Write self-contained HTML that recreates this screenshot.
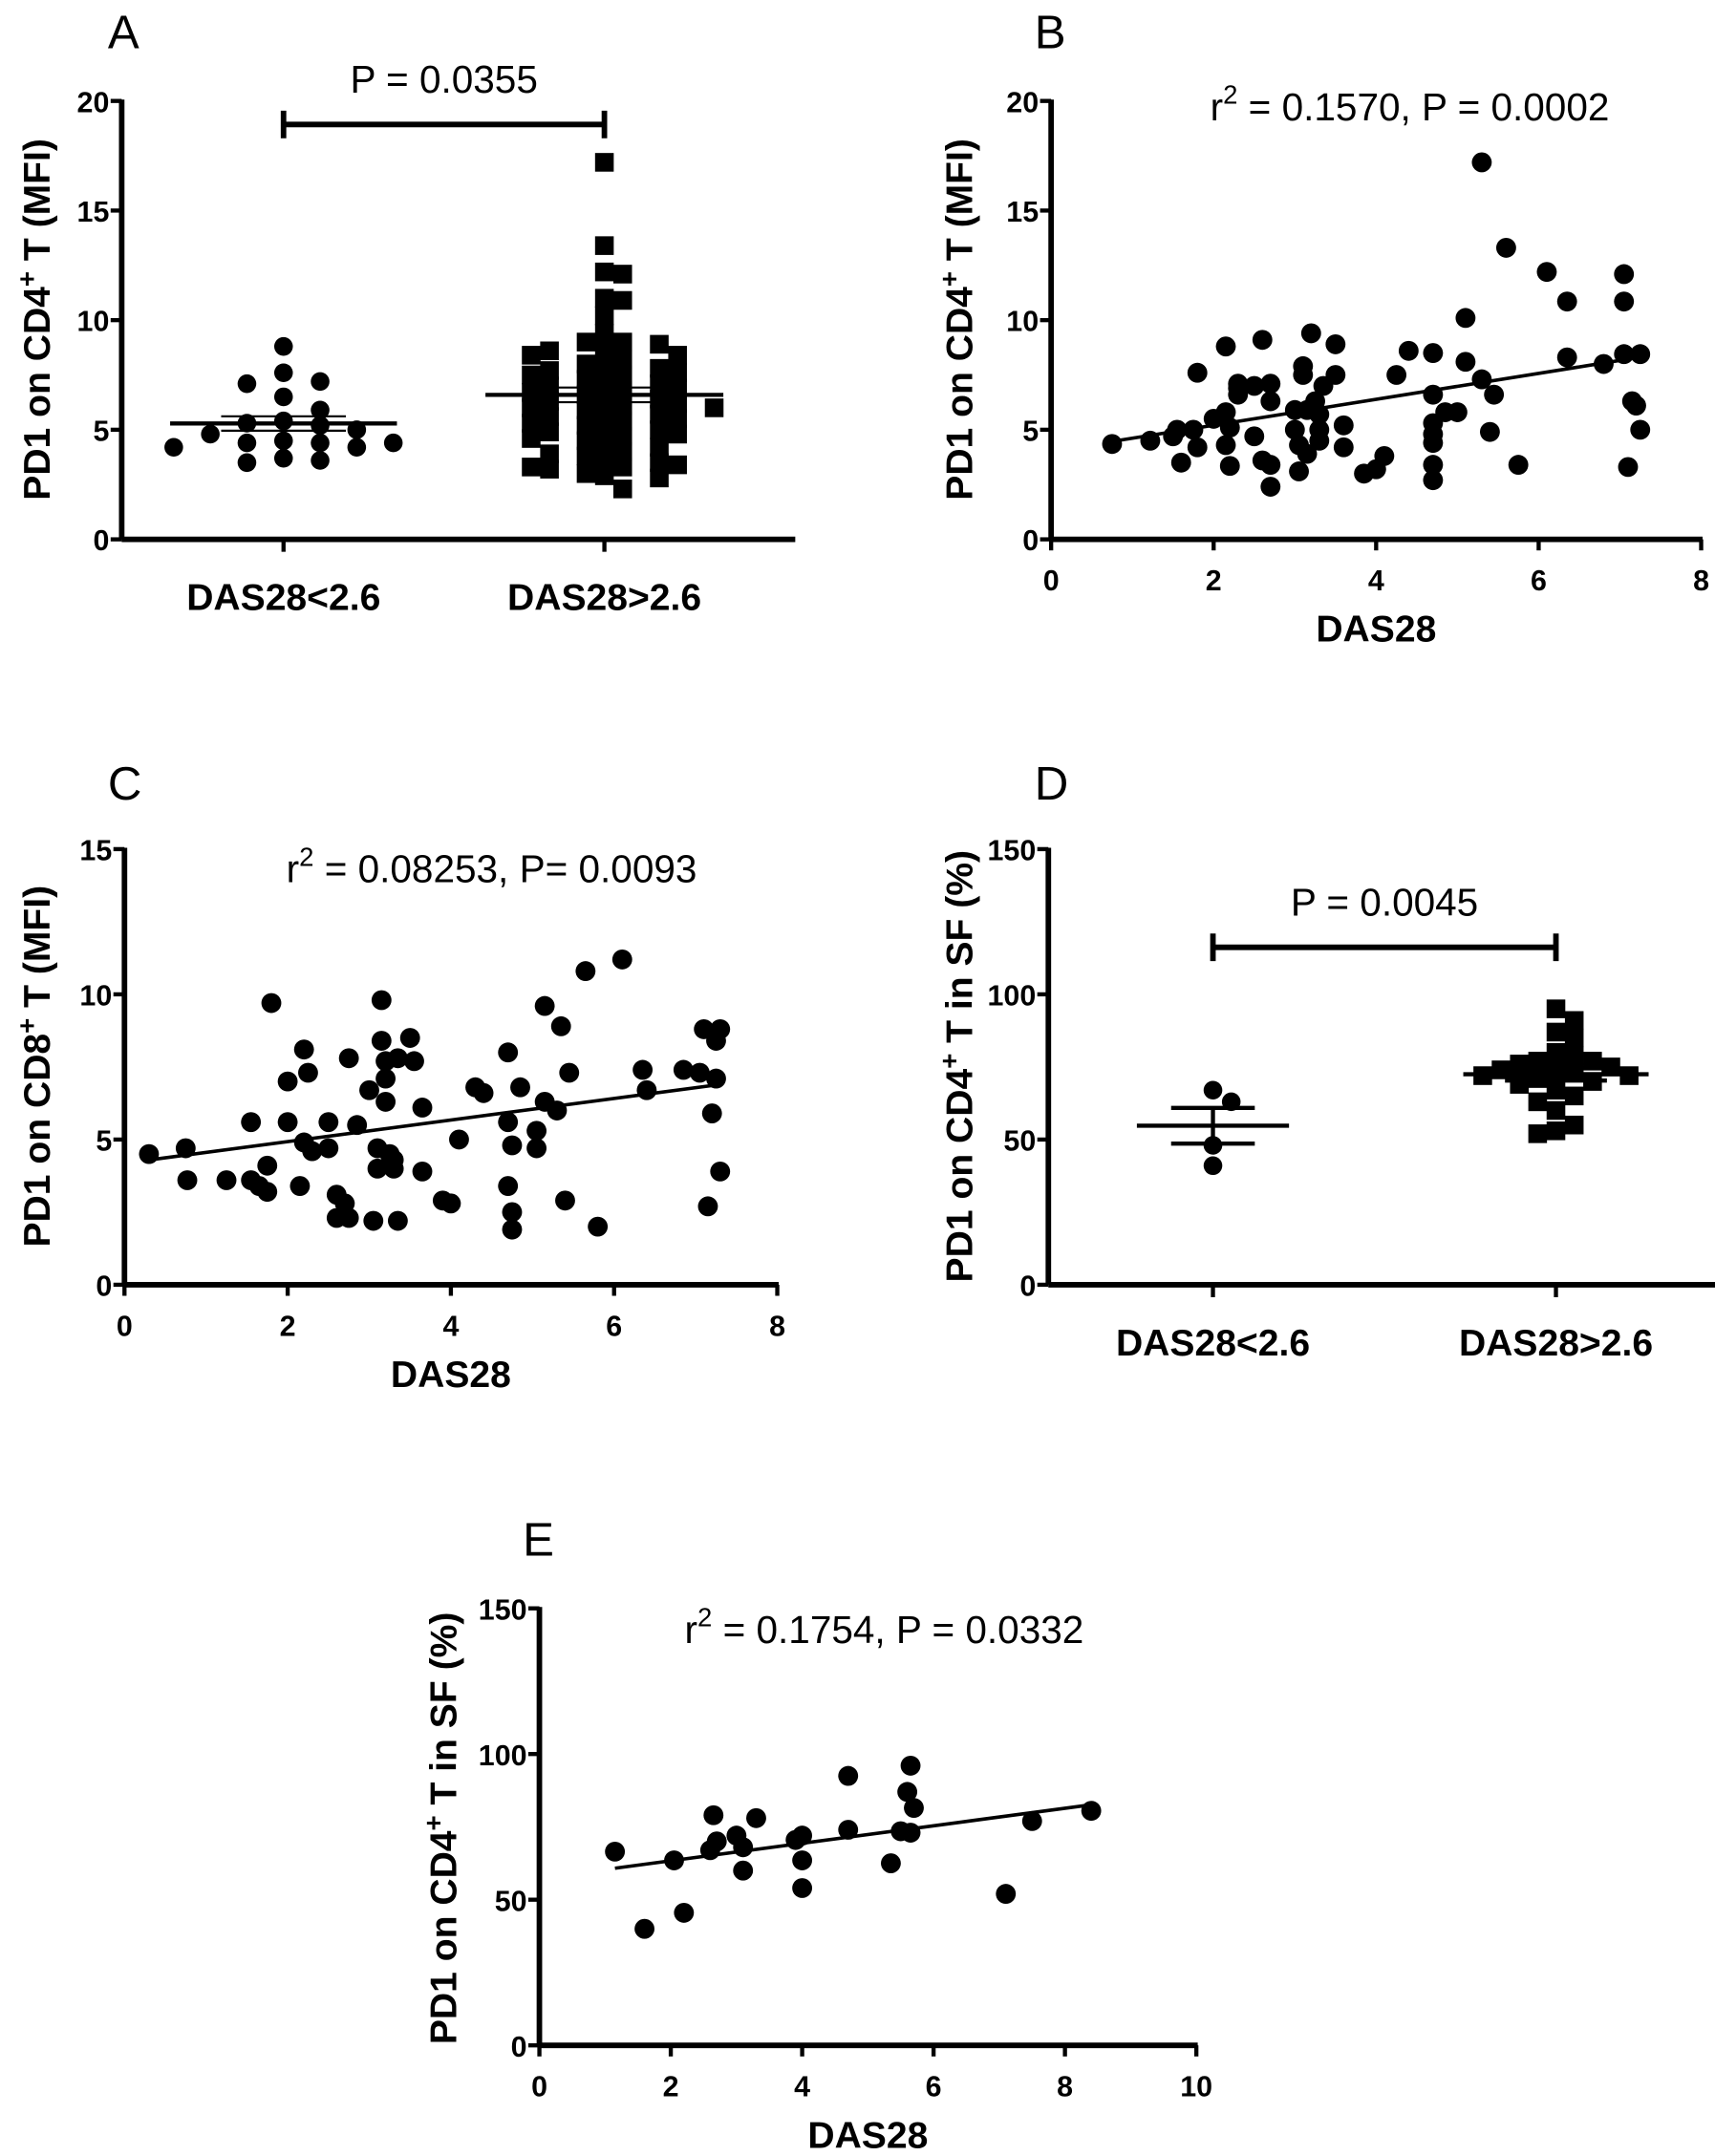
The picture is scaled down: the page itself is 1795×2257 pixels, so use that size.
<!DOCTYPE html>
<html><head><meta charset="utf-8">
<style>
html,body{margin:0;padding:0;background:#fff;}
svg{display:block;}
text{font-family:"Liberation Sans",Arial,sans-serif;fill:#000;}
.tick{font-weight:bold;font-size:21px;}
.cat{font-weight:bold;font-size:27px;}
.ttl{font-weight:bold;font-size:27px;}
.stat{font-size:28px;}
.lbl{font-size:34px;}
</style></head>
<body>
<svg id="fig" width="1795" height="2257" viewBox="0 0 1240 1559" preserveAspectRatio="none" xmlns="http://www.w3.org/2000/svg"></svg>
<script>
// ---- Panel A data ----
const aCategories=["DAS28<2.6","DAS28>2.6"];
const aGroup1=[8.8,7.6,7.2,7.1,6.5,5.9,5.4,5.3,5.2,5.0,4.8,4.5,4.4,4.4,4.4,4.2,4.2,3.7,3.6,3.5];
const aGroup2=[17.2,13.4,12.2,12.1,11.0,10.9,10.2,9.4,9.0,9.0,8.9,8.6,8.6,8.4,8.4,8.2,8.0,7.9,7.8,7.7,7.6,7.5,7.5,7.3,7.2,7.1,7.0,6.9,6.8,6.7,6.6,6.5,6.4,6.3,6.2,6.1,6.0,6.0,5.9,5.8,5.7,5.6,5.5,5.4,5.3,5.2,5.1,5.0,4.9,4.8,4.7,4.6,4.5,4.4,4.2,4.0,3.9,3.8,3.6,3.5,3.4,3.3,3.3,3.2,3.0,2.9,2.8,2.3];
const aYTicks=[0,5,10,15,20];
// ---- Panel B data ----
const bX=[0.75,1.22,1.55,1.5,1.6,1.75,1.8,1.8,2.0,2.15,2.15,2.15,2.2,2.2,2.3,2.3,2.3,2.5,2.5,2.6,2.6,2.7,2.7,2.7,2.7,3.0,3.0,3.05,3.05,3.1,3.1,3.15,3.15,3.2,3.25,3.3,3.3,3.3,3.35,3.5,3.5,3.6,3.6,3.85,4.0,4.1,4.25,4.4,4.7,4.7,4.7,4.7,4.7,4.7,4.7,4.85,5.0,5.1,5.1,5.3,5.3,5.4,5.45,5.6,5.75,6.1,6.35,6.35,6.8,7.05,7.05,7.05,7.1,7.15,7.2,7.25,7.25];
const bY=[4.35,4.5,5.0,4.7,3.5,5.0,7.6,4.2,5.5,8.8,5.8,4.3,5.1,3.35,6.9,7.1,6.6,7.0,4.7,9.1,3.6,3.4,2.4,6.3,7.1,5.9,5.0,4.3,3.1,7.9,7.5,5.9,3.9,9.4,6.3,5.7,5.0,4.5,7.0,8.9,7.5,5.2,4.2,3.0,3.2,3.8,7.5,8.6,8.5,6.6,5.3,4.8,4.4,3.4,2.7,5.8,5.8,10.1,8.1,17.2,7.3,4.9,6.6,13.3,3.4,12.2,10.85,8.3,8.0,12.1,10.85,8.45,3.3,6.3,6.1,5.0,8.45];
const bXTicks=[0,2,4,6,8];
const bYTicks=[0,5,10,15,20];
// ---- Panel C data ----
const cX=[0.3,0.75,0.77,1.25,1.55,1.55,1.65,1.75,1.75,1.8,2.0,2.0,2.2,2.2,2.15,2.25,2.3,2.5,2.5,2.6,2.6,2.7,2.75,2.75,2.85,3.0,3.05,3.1,3.1,3.15,3.15,3.2,3.2,3.2,3.25,3.3,3.3,3.35,3.35,3.5,3.55,3.65,3.65,3.9,4.0,4.1,4.3,4.4,4.7,4.7,4.75,4.7,4.75,4.75,4.85,5.05,5.05,5.15,5.15,5.3,5.35,5.4,5.45,5.65,5.8,6.1,6.35,6.4,6.85,7.05,7.1,7.15,7.2,7.25,7.25,7.3,7.3];
const cY=[4.5,4.7,3.6,3.6,5.6,3.6,3.4,3.2,4.1,9.7,5.6,7.0,8.1,4.9,3.4,7.3,4.6,4.7,5.6,3.1,2.3,2.8,7.8,2.3,5.5,6.7,2.2,4.7,4.0,9.8,8.4,7.7,6.3,7.1,4.5,4.0,4.3,2.2,7.8,8.5,7.7,6.1,3.9,2.9,2.8,5.0,6.8,6.6,8.0,5.6,4.8,3.4,2.5,1.9,6.8,5.3,4.7,9.6,6.3,6.0,8.9,2.9,7.3,10.8,2.0,11.2,7.4,6.7,7.4,7.3,8.8,2.7,5.9,7.1,8.4,8.8,3.9];
const cXTicks=[0,2,4,6,8];
const cYTicks=[0,5,10,15];
// ---- Panel D data ----
const dCategories=["DAS28<2.6","DAS28>2.6"];
const dGroup1=[67,63,48,41];
const dGroup2=[95,91,87,85,80,79,77,77,76,75,74,74,73,72,72,71,70,69,67,65,63,60,55,53,52];
const dYTicks=[0,50,100,150];
// ---- Panel E data ----
const eX=[1.15,1.6,2.05,2.2,2.65,2.6,2.7,3.0,3.1,3.1,3.3,3.9,4.0,4.0,4.0,4.7,4.7,5.35,5.5,5.6,5.65,5.65,5.7,7.1,7.5,8.4];
const eY=[66.5,40,63.5,45.5,79,67,70,72,60,68,78,70.5,72,63.5,54,92.5,74,62.5,73.5,87,96,73,81.5,52,77,80.5];
const eXTicks=[0,2,4,6,8,10];
const eYTicks=[0,50,100,150];

const NS="http://www.w3.org/2000/svg";
const fig=document.getElementById('fig');
function mk(tag,parent,attrs){const e=document.createElementNS(NS,tag);for(const k in attrs)e.setAttribute(k,attrs[k]);parent.appendChild(e);return e;}
function txt(parent,x,y,s,cls,anchor){const t=mk('text',parent,{x:x,y:y,class:cls,'text-anchor':anchor||'middle'});t.textContent=s;return t;}
function lin(parent,x1,y1,x2,y2,w){return mk('line',parent,{x1:x1,y1:y1,x2:x2,y2:y2,stroke:'#000','stroke-width':w||2});}
function mean(a){return a.reduce((s,v)=>s+v,0)/a.length;}
function sem(a){const m=mean(a);return Math.sqrt(a.reduce((s,v)=>s+(v-m)*(v-m),0)/(a.length-1)/a.length);}
function fit(xs,ys){const mx=mean(xs),my=mean(ys);let n=0,d=0;for(let i=0;i<xs.length;i++){n+=(xs[i]-mx)*(ys[i]-my);d+=(xs[i]-mx)*(xs[i]-mx);}const b=n/d;return {a:my-b*mx,b:b};}

function yAxis(g,P,ticks){
  lin(g,P.x0,P.yp(ticks[ticks.length-1])-1,P.x0,P.yp(0),4);
  ticks.forEach(v=>{const y=P.yp(v);lin(g,P.x0-8,y,P.x0,y,3);const t=txt(g,P.x0-9,y+8,String(v),'tick','end');
    
    });
}
function yTitle(g,x,y,parts){
  const t=mk('text',g,{transform:`translate(${x},${y}) rotate(-90)`,class:'ttl','text-anchor':'middle'});
  
  
  t.innerHTML=parts;
}
function scatterPanel(name,o,xs,ys,xt,yt){
  const g=mk('g',fig,{});
  
  
  const P={x0:o.x0,xp:v=>o.x0+(v-0)*(o.x1-o.x0)/(xt[xt.length-1]),yp:v=>o.y0-v*(o.y0-o.yTop)/(yt[yt.length-1])};
  yAxis(g,P,yt);
  lin(g,o.x0,o.y0,o.x1+1,o.y0,4);
  xt.forEach(v=>{const x=P.xp(v);lin(g,x,o.y0,x,o.y0+8,3);const t=txt(g,x,o.y0+37,String(v),'tick');
    
    });
  const xtl=txt(g,(o.x0+o.x1)/2,o.y0+74,'DAS28','ttl');
  
  
  for(let i=0;i<xs.length;i++){const c=mk('circle',g,{cx:P.xp(xs[i]),cy:P.yp(ys[i]),r:7.2,fill:'#000'});
    
    }
  const f=fit(xs,ys);const mn=Math.min(...xs),mxx=Math.max(...xs);
  const rl=lin(g,P.xp(mn),P.yp(f.a+f.b*mn),P.xp(mxx),P.yp(f.a+f.b*mxx),2.5);
  
  
  return g;
}
function swarm(vals,cx,P,s){
  const placed=[];
  const sorted=vals.slice().sort((a,b)=>b-a);
  sorted.forEach(v=>{const y=P.yp(v);let k=0,x=cx;
    for(k=0;k<40;k++){const off=(k%2?1:-1)*Math.ceil(k/2)*s*0.98;x=cx+off;
      if(!placed.some(p=>Math.abs(p.x-x)<s*0.98&&Math.abs(p.y-y)<s*0.8))break;}
    placed.push({x:x,y:y,v:v});});
  return placed;
}
function groupPanel(name,o,groups,cats,yt,pText){
  const g=mk('g',fig,{});
  
  
  const P={x0:o.x0,yp:v=>o.y0-v*(o.y0-o.yTop)/(yt[yt.length-1])};
  yAxis(g,P,yt);
  lin(g,o.x0,o.y0,o.x1,o.y0,4);
  groups.forEach((vals,i)=>{const cx=o.cx[i];
    lin(g,cx,o.y0,cx,o.y0+9,3);
    const t=txt(g,cx,o.y0+51,cats[i],'cat');
    
    
    const pts=swarm(vals,cx,P,o.ms);
    pts.forEach(p=>{let m;
      if(i===0){m=mk('circle',g,{cx:p.x,cy:p.y,r:o.ms/2,fill:'#000'});}
      else{m=mk('rect',g,{x:p.x-o.ms/2,y:p.y-o.ms/2,width:o.ms,height:o.ms,fill:'#000'});}
      
      });
    const m=mean(vals),se=sem(vals);
    const ml=lin(g,cx-o.mw[i],P.yp(m),cx+o.mw[i],P.yp(m),3);
    
    
    lin(g,cx-o.mw[i]*0.55,P.yp(m+se),cx+o.mw[i]*0.55,P.yp(m+se),o.semW);
    lin(g,cx-o.mw[i]*0.55,P.yp(m-se),cx+o.mw[i]*0.55,P.yp(m-se),o.semW);
    lin(g,cx,P.yp(m+se),cx,P.yp(m-se),o.semW);
  });
  const by=o.bracketY;
  const br=mk('path',g,{d:`M${o.cx[0]},${by-10}V${by+10}M${o.cx[0]},${by}H${o.cx[1]}M${o.cx[1]},${by-10}V${by+10}`,stroke:'#000','stroke-width':4,fill:'none'});
  
  
  const pt=txt(g,(o.cx[0]+o.cx[1])/2,by-23,pText,'stat');
  
  
  return g;
}
function panelLabel(x,y,s){const t=txt(fig,x,y,s,'lbl','start');
  
  }
function stat(g,x,y,html){const t=mk('text',g,{x:x,y:y,class:'stat','text-anchor':'start'});t.innerHTML=html;
  
  }

// Panel A
const gA=groupPanel('panel-a',{x0:88,x1:575,y0:390,yTop:73,cx:[205,437],ms:13.5,mw:[82,86],semW:1.5,bracketY:90},[aGroup1,aGroup2],aCategories,aYTicks,'P = 0.0355');
yTitle(gA,36,231,'PD1 on CD4<tspan dy="-10" font-size="19">+</tspan><tspan dy="10"> T (MFI)</tspan>');
panelLabel(78,35,'A');
// Panel B
const gB=scatterPanel('panel-b',{x0:760,x1:1230,y0:390,yTop:73},bX,bY,bXTicks,bYTicks);
yTitle(gB,703,231,'PD1 on CD4<tspan dy="-10" font-size="19">+</tspan><tspan dy="10"> T (MFI)</tspan>');
stat(gB,875,87,'r<tspan dy="-12" font-size="19">2</tspan><tspan dy="12"> = 0.1570, P = 0.0002</tspan>');
panelLabel(748,35,'B');
// Panel C
const gC=scatterPanel('panel-c',{x0:90,x1:562,y0:929,yTop:614},cX,cY,cXTicks,cYTicks);
yTitle(gC,36,771,'PD1 on CD8<tspan dy="-10" font-size="19">+</tspan><tspan dy="10"> T (MFI)</tspan>');
stat(gC,207,638,'r<tspan dy="-12" font-size="19">2</tspan><tspan dy="12"> = 0.08253, P= 0.0093</tspan>');
panelLabel(78,578,'C');
// Panel D
const gD=groupPanel('panel-d',{x0:758,x1:1240,y0:929,yTop:614,cx:[877,1125],ms:13.5,mw:[55,67],semW:3,bracketY:685},[dGroup1,dGroup2],dCategories,dYTicks,'P = 0.0045');
yTitle(gD,703,771,'PD1 on CD4<tspan dy="-10" font-size="19">+</tspan><tspan dy="10"> T  in SF (%)</tspan>');
panelLabel(748,578,'D');
// Panel E
const gE=scatterPanel('panel-e',{x0:390,x1:865,y0:1479,yTop:1163},eX,eY,eXTicks,eYTicks);
yTitle(gE,330,1322,'PD1 on CD4<tspan dy="-10" font-size="19">+</tspan><tspan dy="10"> T in SF  (%)</tspan>');
stat(gE,495,1188,'r<tspan dy="-12" font-size="19">2</tspan><tspan dy="12"> = 0.1754, P = 0.0332</tspan>');
panelLabel(378,1125,'E');
</script>
</body></html>
